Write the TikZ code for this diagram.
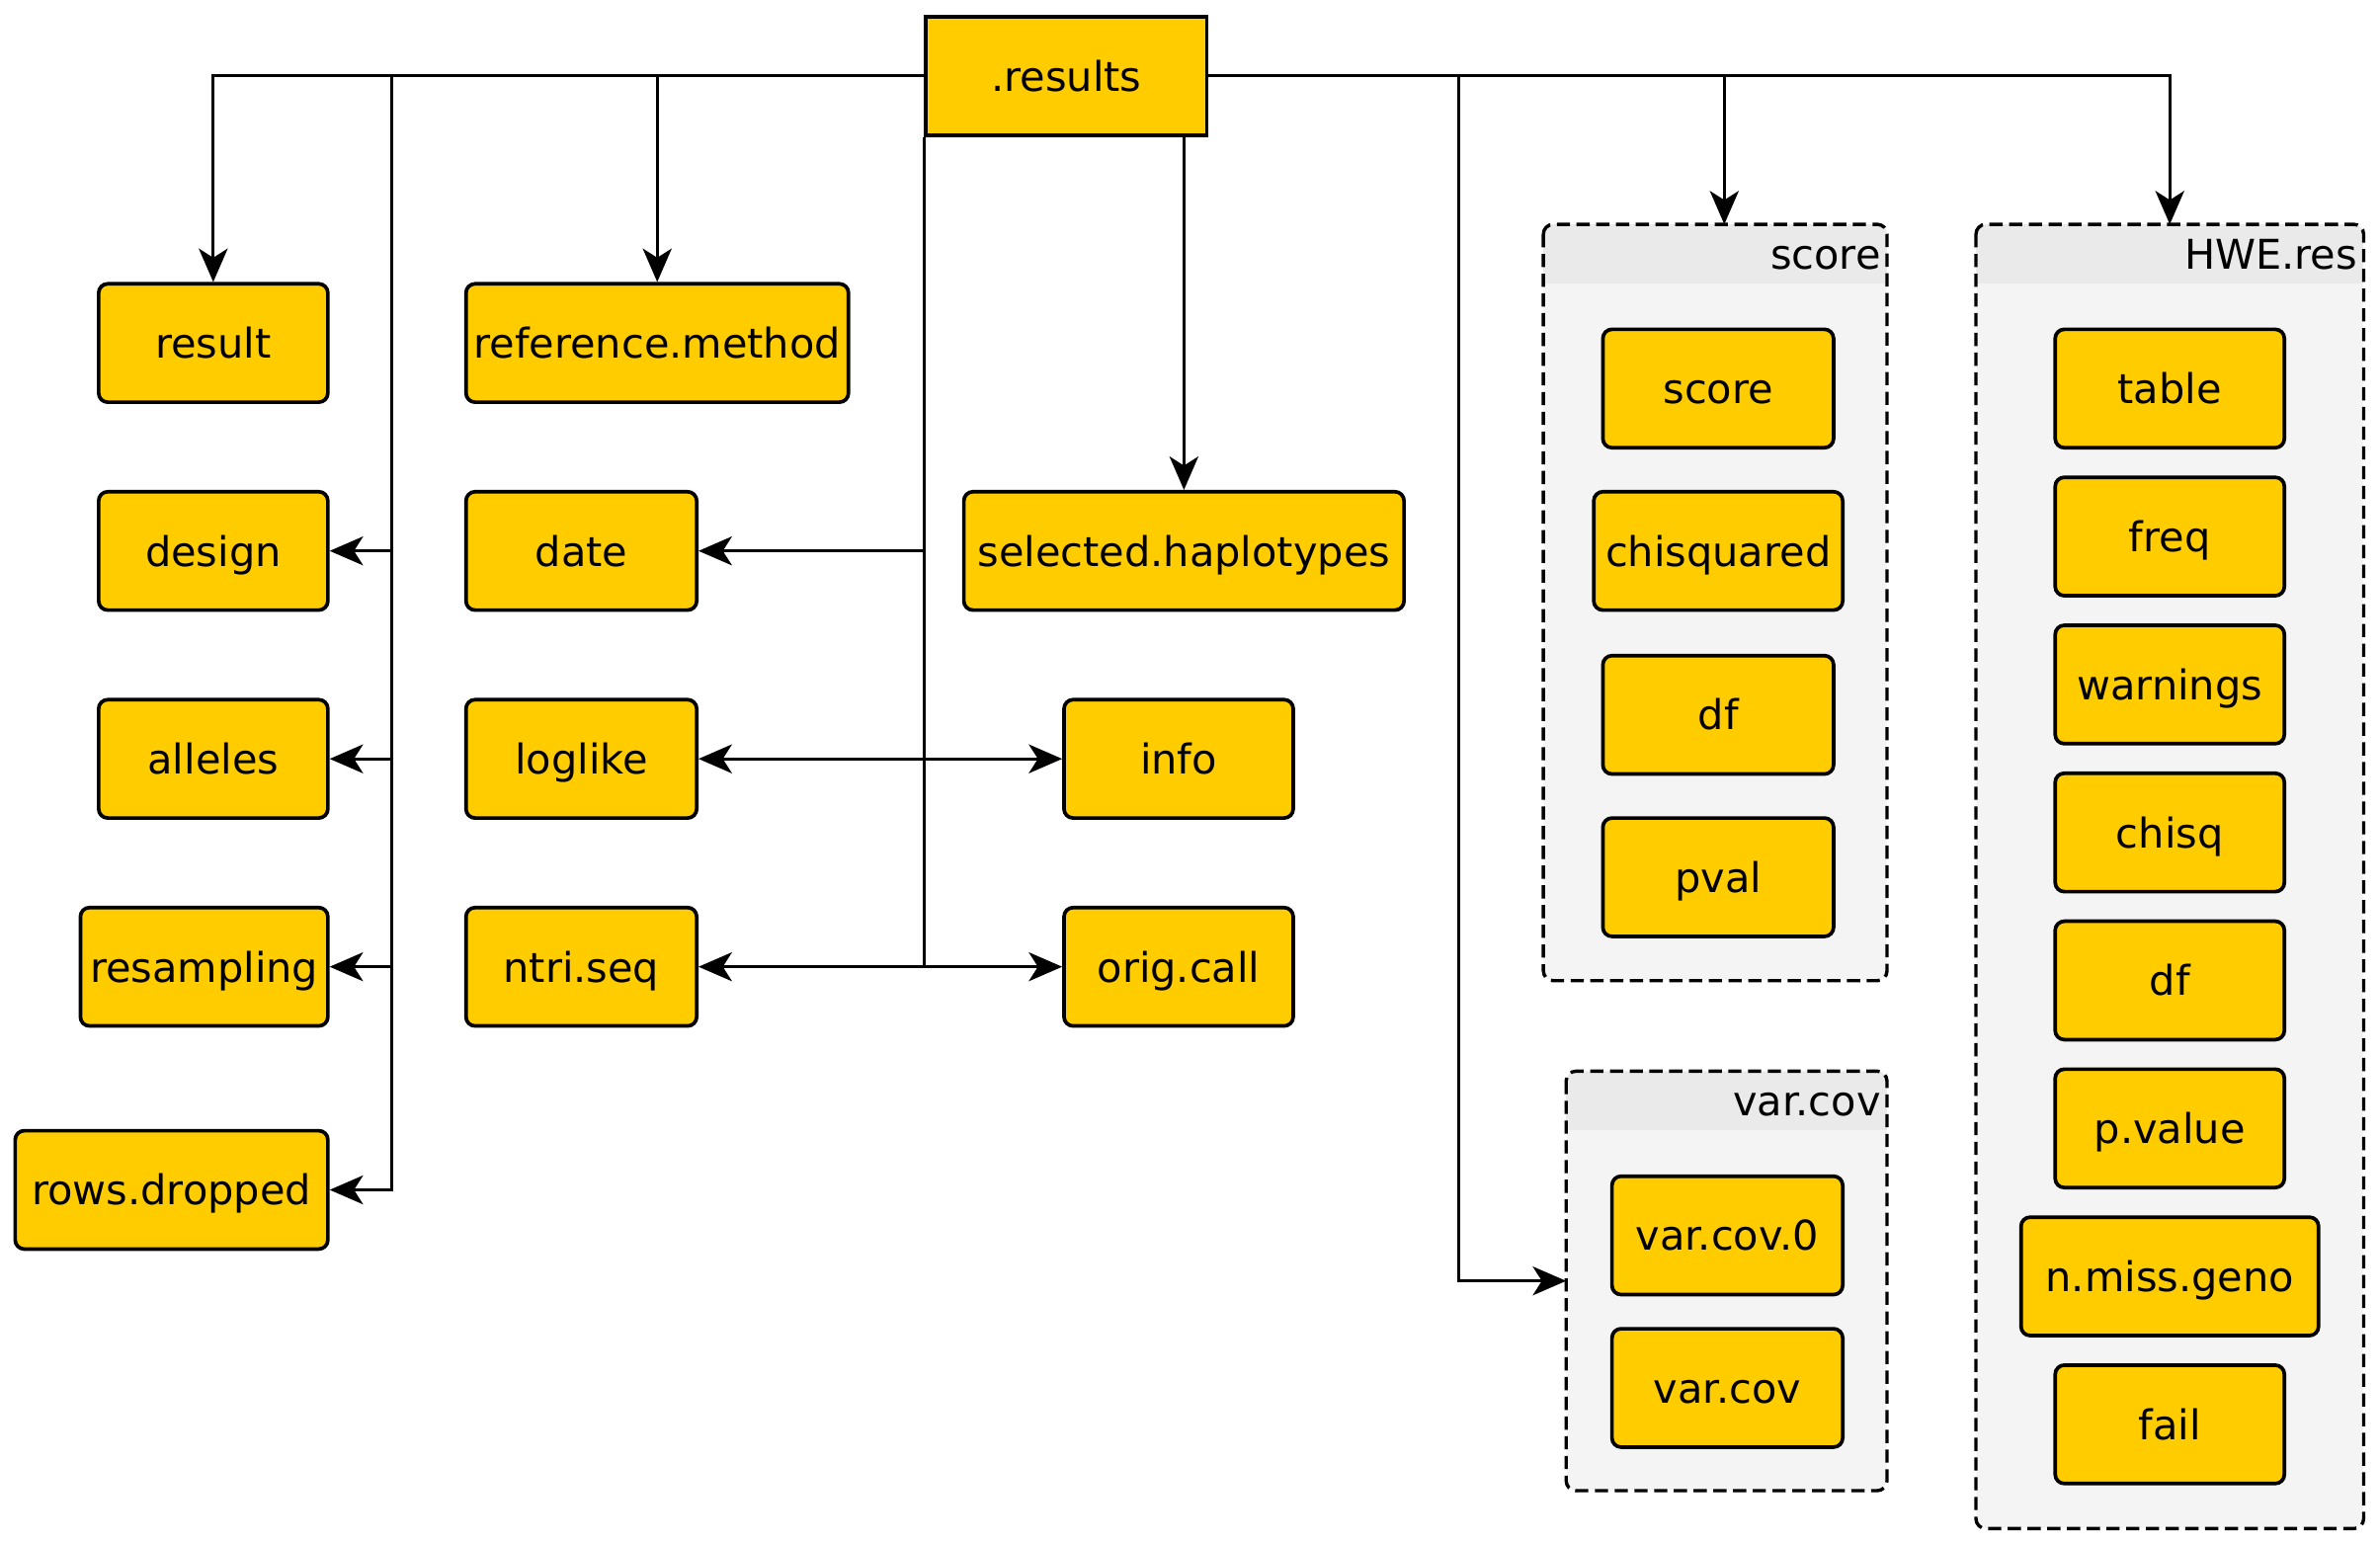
\documentclass[tikz,border=0pt]{standalone}
\usepackage{fontspec}
\setmainfont{DejaVu Sans}
\usetikzlibrary{arrows.meta,calc}
\definecolor{leaffill}{HTML}{FFCC00}
\definecolor{groupbody}{HTML}{F4F4F4}
\definecolor{grouphead}{HTML}{EAEAEA}

\begin{document}
\begin{tikzpicture}[x=1pt,y=-1pt,
  every node/.style={font=\fontsize{27}{32}\selectfont, text height=24pt, text depth=4pt, inner sep=0pt},
  leaf/.style={draw, line width=2.4pt, fill=leaffill, rounded corners=6pt, minimum height=78pt},
  rootbox/.style={draw, line width=2.4pt, fill=leaffill, minimum height=78pt, minimum width=185pt},
  grp/.style={fill=groupbody, rounded corners=6.5pt},
  grpline/.style={draw, dash pattern=on 8.7pt off 4.3pt, line width=2.2pt, rounded corners=6.5pt},
  conn/.style={line width=2pt},
  tip/.style={-{Stealth[length=22pt,width=19pt,inset=6pt]}},
  tips/.style={{Stealth[length=22pt,width=19pt,inset=6pt]}-{Stealth[length=22pt,width=19pt,inset=6pt]}},
]
\useasboundingbox (0,0) rectangle (1568,1017);

% ---- groups (containers) ----
\node[grp, minimum width=226pt, minimum height=498pt] (scoreg) at (1130,397) {};
\node[grp, minimum width=211pt, minimum height=276pt] (varg) at (1137.5,844) {};
\node[grp, minimum width=255pt, minimum height=859pt] (hweg) at (1429.5,577.5) {};

\foreach \g in {scoreg,varg,hweg}{
  \begin{scope}
    \clip[rounded corners=6.5pt] (\g.north west) rectangle (\g.south east);
    \fill[grouphead] (\g.north west) rectangle ($(\g.north east)+(0,39)$);
  \end{scope}
  \draw[grpline] (\g.north west) rectangle (\g.south east);
}
\node[anchor=east] (scorelbl) at ($(scoreg.north east)+(-4,19.5)$) {score};
\node[anchor=east] (varlbl) at ($(varg.north east)+(-4,19.5)$) {var.cov};
\node[anchor=east] (hwelbl) at ($(hweg.north east)+(-4,19.5)$) {HWE.res};

% ---- root ----
\node[rootbox] (res) at (702.5,50) {.results};

% ---- left columns ----
\node[leaf, minimum width=151pt] (result) at (140.5,226) {result};
\node[leaf, minimum width=151pt] (design) at (140.5,363) {design};
\node[leaf, minimum width=151pt] (alleles) at (140.5,500) {alleles};
\node[leaf, minimum width=163pt] (resampling) at (134.5,637) {resampling};
\node[leaf, minimum width=206pt] (rows) at (113,784) {rows.dropped};

\node[leaf, minimum width=252pt] (refm) at (433,226) {reference.method};
\node[leaf, minimum width=152pt] (date) at (383,363) {date};
\node[leaf, minimum width=152pt] (loglike) at (383,500) {loglike};
\node[leaf, minimum width=152pt] (ntri) at (383,637) {ntri.seq};

\node[leaf, minimum width=290pt] (sel) at (780,363) {selected.haplotypes};
\node[leaf, minimum width=151pt] (info) at (776.5,500) {info};
\node[leaf, minimum width=151pt] (orig) at (776.5,637) {orig.call};

% ---- score members ----
\node[leaf, minimum width=152pt] (sc1) at (1132,256) {score};
\node[leaf, minimum width=164pt] (sc2) at (1132,363) {chisquared};
\node[leaf, minimum width=152pt] (sc3) at (1132,471) {df};
\node[leaf, minimum width=152pt] (sc4) at (1132,578) {pval};

% ---- var.cov members ----
\node[leaf, minimum width=152pt] (vc1) at (1138,814) {var.cov.0};
\node[leaf, minimum width=152pt] (vc2) at (1138,914.5) {var.cov};

% ---- HWE.res members ----
\node[leaf, minimum width=151pt] (hw1) at (1429.5,256) {table};
\node[leaf, minimum width=151pt] (hw2) at (1429.5,353.5) {freq};
\node[leaf, minimum width=151pt] (hw3) at (1429.5,451) {warnings};
\node[leaf, minimum width=151pt] (hw4) at (1429.5,548.5) {chisq};
\node[leaf, minimum width=151pt] (hw5) at (1429.5,646) {df};
\node[leaf, minimum width=151pt] (hw6) at (1429.5,743.5) {p.value};
\node[leaf, minimum width=196pt] (hw7) at (1429.5,841) {n.miss.geno};
\node[leaf, minimum width=151pt] (hw8) at (1429.5,938.5) {fail};

% ---- connectors ----
\coordinate (busL) at (258,50);
\coordinate (busR) at (961,50);
\coordinate (scoreIn) at ($(scoreg.north)+(6,0)$);

\draw[conn,tip] (res.west) -| (result.north);
\draw[conn,tip] (res.west) -| (refm.north);
\draw[conn,tip] (res.west) -| (busL |- rows) -- (rows.east);
\draw[conn,tip] (busL |- design) -- (design.east);
\draw[conn,tip] (busL |- alleles) -- (alleles.east);
\draw[conn,tip] (busL |- resampling) -- (resampling.east);

\draw[conn] (res.south west) -- (res.south west |- ntri);
\draw[conn,tip] (res.south west |- date) -- (date.east);
\draw[conn,tips] (loglike.east) -- (info.west);
\draw[conn,tips] (ntri.east) -- (orig.west);
\draw[conn,tip] (sel.north |- res.south) -- (sel.north);

\draw[conn,tip] (res.east) -| (scoreIn);
\draw[conn,tip] (res.east) -| (hweg.north);
\draw[conn,tip] (res.east) -| (busR |- varg) -- (varg.west);
\end{tikzpicture}
\end{document}
